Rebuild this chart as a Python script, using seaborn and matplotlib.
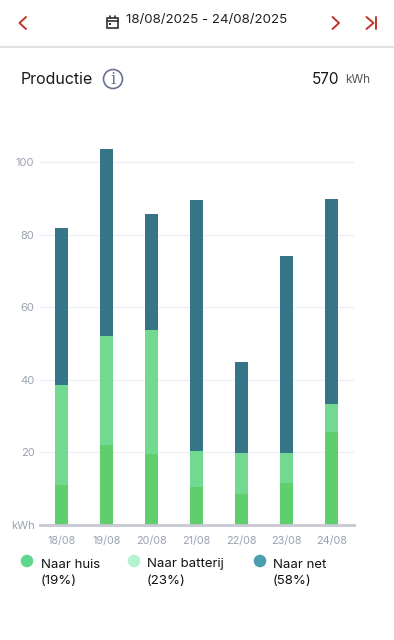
import matplotlib
matplotlib.use("Agg")
import matplotlib.pyplot as plt
import seaborn as sns
import numpy as np
import pandas as pd
from matplotlib.patches import Circle, Rectangle

# values (kWh per segment)
days = ["18/08", "19/08", "20/08", "21/08", "22/08", "23/08", "24/08"]
naar_huis = [11.0, 22.0, 19.6, 10.6, 8.5, 11.6, 25.6]
naar_batterij = [27.5, 30.0, 34.1, 9.8, 11.3, 8.2, 7.7]
naar_net = [43.3, 51.6, 31.9, 69.1, 25.2, 54.2, 56.5]
y_ticks = [0, 20, 40, 60, 80, 100]
y_labels = ["kWh", "20", "40", "60", "80", "100"]

legend_names = ["Naar huis", "Naar batterij", "Naar net"]
legend_pct = ["(19%)", "(23%)", "(58%)"]

sns.set_theme(style="white")
plt.rcParams["font.family"] = ["Inter", "DejaVu Sans"]

W, H = 394, 640
fig = plt.figure(figsize=(W / 100, H / 100), dpi=100)
ax = fig.add_axes([40 / W, (H - 525) / H, 314 / W, 384.8 / H])

df = pd.DataFrame({"day": days, "huis": naar_huis, "batterij": naar_batterij, "net": naar_net})
bottom = np.zeros(len(days))
for col, color in [("huis", "#5FCF6E"), ("batterij", "#72D990"), ("net", "#367488")]:
    sns.barplot(data=df, x="day", y=col, color=color, width=0.29, bottom=bottom,
                saturation=1, linewidth=0, ax=ax)
    bottom = bottom + df[col].values

ax.set_ylim(0, 106)
ax.set_xlim(-0.49, 6.51)
ax.set_xlabel("")
ax.set_ylabel("")
ax.set_yticks(y_ticks)
ax.set_yticklabels(y_labels)
ax.tick_params(axis="y", length=0, pad=4, labelsize=8, labelcolor="#9AA1B2")
ax.tick_params(axis="x", length=0, pad=8, labelsize=7.8, labelcolor="#9AA1B2")
ax.grid(axis="y", color="#EEF0F5", linewidth=1)
ax.set_axisbelow(True)
for s in ["top", "left", "right"]:
    ax.spines[s].set_visible(False)
ax.spines["bottom"].set_color("#C6C8D2")
ax.spines["bottom"].set_linewidth(2)

# overlay in pixel coords for the app chrome
ui = fig.add_axes([0, 0, 1, 1])
ui.set_xlim(0, W)
ui.set_ylim(H, 0)
ui.axis("off")
ui.patch.set_alpha(0)

red = "#C0352B"
ui.plot([26, 19.5, 26], [17, 23, 29], color=red, lw=1.4)
ui.plot([332.5, 339, 332.5], [17, 23, 29], color=red, lw=1.4)
ui.plot([366.5, 373.5, 366.5], [17, 23, 29], color=red, lw=1.4)
ui.plot([376, 376], [17, 29], color=red, lw=1.4)
ui.plot([0, W], [47, 47], color="#E2E2E2", lw=1.5)

# calendar icon
ui.add_patch(Rectangle((107, 18), 11, 10, fill=False, ec="#333333", lw=1.2))
ui.plot([107, 118], [21, 21], color="#333333", lw=1.2)
ui.plot([110, 110], [15.5, 18], color="#333333", lw=1.2)
ui.plot([115, 115], [15.5, 18], color="#333333", lw=1.2)
ui.add_patch(Rectangle((109.5, 23), 2, 2, color="#333333", lw=0))

ui.text(126, 20.5, "18/08/2025 - 24/08/2025", fontsize=9.6, color="#222222", va="center", ha="left")
ui.text(21, 79, "Productie", fontsize=11.5, color="#1A1A1A", va="center", ha="left")
ui.add_patch(Circle((113, 79), 9.5, fill=False, ec="#66728F", lw=1.2))
ui.text(113, 79, "i", fontsize=12, color="#66728F", va="center", ha="center", family="DejaVu Serif")
ui.text(339, 79, "570", fontsize=11, color="#1A1A1A", va="center", ha="right")
ui.text(345, 80, "kWh", fontsize=8.5, color="#555555", va="center", ha="left")

# legend
for cx, tx, col, name, pct in zip([27, 134, 260], [41, 147, 273], ["#5FD88E", "#B2F3D0", "#4A9FB0"],
                                  legend_names, legend_pct):
    ui.add_patch(Circle((cx, 561), 6.3, color=col, lw=0))
    ui.text(tx, 564.5, name, fontsize=9.5, color="#111111", va="center", ha="left")
    ui.text(tx, 581, pct, fontsize=9.5, color="#111111", va="center", ha="left")

fig.savefig("out.png", dpi=100)
